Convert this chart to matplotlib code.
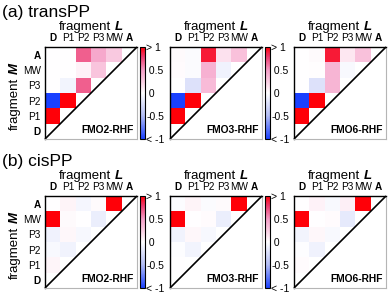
import numpy as np
import matplotlib
matplotlib.use('Agg')
import matplotlib.pyplot as plt
from matplotlib.colors import LinearSegmentedColormap, Normalize
import matplotlib.colorbar as mcolorbar

plt.rcParams['font.family'] = ['Liberation Sans', 'DejaVu Sans']

fragments = ['D', 'P1', 'P2', 'P3', 'MW', 'A']
bold_frags = {'D', 'A'}
methods = ['FMO2-RHF', 'FMO3-RHF', 'FMO6-RHF']
systems = ['(a) transPP', '(b) cisPP']
cbar_ticks = [1, 0.5, 0, -0.5, -1]
cbar_labels = ['> 1', ' 0.5', ' 0', '-0.5', '< -1']

# values for row M (D..A), columns L < M (D..)
trans_fmo2 = [
    [],
    [1.3],
    [-1.3, 1.3],
    [0.0, -0.08, 0.68],
    [0.0, 0.0, 0.07, 0.3],
    [0.0, 0.0, 0.68, 0.45, 0.28],
]
trans_fmo3 = [
    [],
    [1.2],
    [-1.2, 1.2],
    [0.0, -0.22, 0.35],
    [0.02, -0.03, 0.4, -0.1],
    [0.03, -0.03, 0.9, 0.15, 0.32],
]
trans_fmo6 = [
    [],
    [1.2],
    [-1.2, 1.2],
    [0.0, -0.22, 0.38],
    [0.0, 0.01, 0.38, -0.04],
    [0.0, 0.03, 0.9, 0.12, 0.32],
]
cis_fmo2 = [
    [],
    [0.05],
    [-0.04, -0.09],
    [-0.1, 0.04, -0.05],
    [1.2, 0.03, 0.0, -0.13],
    [0.0, 0.06, -0.07, 0.03, 1.2],
]
cis_fmo3 = [
    [],
    [0.0],
    [-0.01, -0.08],
    [-0.09, 0.04, -0.05],
    [1.2, 0.0, 0.02, -0.13],
    [-0.02, 0.06, -0.03, 0.03, 1.2],
]
cis_fmo6 = [
    [],
    [0.02],
    [-0.01, -0.1],
    [-0.08, 0.04, -0.04],
    [1.2, 0.0, 0.02, -0.16],
    [0.0, 0.07, -0.04, 0.08, 1.2],
]
data = [[trans_fmo2, trans_fmo3, trans_fmo6],
        [cis_fmo2, cis_fmo3, cis_fmo6]]

cmap = LinearSegmentedColormap.from_list('bwr_pink', [
    (0.0, (0.10, 0.25, 1.00)),
    (0.25, (0.70, 0.74, 0.96)),
    (0.5, (1.0, 1.0, 1.0)),
    (0.75, (0.96, 0.62, 0.78)),
    (0.9, (0.93, 0.22, 0.42)),
    (1.0, (1.0, 0.0, 0.03)),
])
norm = Normalize(-1, 1)

W, H = 390, 294
fig = plt.figure(figsize=(W / 100, H / 100), dpi=100)

def frac(x, y, w, h):
    return [x / W, 1 - (y + h) / H, w / W, h / H]

lefts = [45, 170, 294]
tops = [47, 196]
size = 92

n = len(fragments)
for r, top in enumerate(tops):
    fig.text(2 / W, 1 - (top - 30) / H, systems[r], fontsize=12.5,
             ha='left', va='baseline')
    for c, left in enumerate(lefts):
        rows = data[r][c]
        mat = np.full((n, n), np.nan)
        for m, vals in enumerate(rows):
            for l, v in enumerate(vals):
                mat[m, l] = v
        ax = fig.add_axes(frac(left, top, size, size))
        ax.pcolormesh(np.arange(n + 1), np.arange(n + 1),
                      np.ma.masked_invalid(mat), cmap=cmap, norm=norm)
        ax.plot([0, n], [0, n], color='k', lw=1.2, clip_on=False,
                solid_capstyle='butt')
        ax.set_xlim(0, n)
        ax.set_ylim(0, n)
        for s in ['left', 'top']:
            ax.spines[s].set_color('k')
            ax.spines[s].set_linewidth(1.0)
        for s in ['right', 'bottom']:
            ax.spines[s].set_color('#b5b5b5')
            ax.spines[s].set_linewidth(0.8)
        ax.set_xticks(np.arange(n) + 0.5)
        ax.set_yticks(np.arange(n) + 0.5)
        ax.xaxis.tick_top()
        ax.set_xticklabels(fragments, fontsize=7.2)
        if c == 0:
            ax.set_yticklabels(fragments, fontsize=7.2)
        else:
            ax.set_yticklabels([])
        for lab in ax.get_xticklabels() + ax.get_yticklabels():
            if lab.get_text() in bold_frags:
                lab.set_fontweight('bold')
        ax.tick_params(length=0, pad=3)
        ax.text(n - 0.2, 0.25, methods[c], fontsize=7.4, fontweight='bold',
                ha='right', va='bottom')
        # fragment L
        cx = left + size / 2
        yb = 1 - (top - 17) / H
        fig.text((cx + 20) / W, yb, 'fragment', fontsize=9.5,
                 ha='right', va='baseline')
        fig.text((cx + 24) / W, yb, 'L', fontsize=9.5, fontweight='bold',
                 style='italic', ha='left', va='baseline')
        if c == 0:
            cy = top + size / 2 + 4
            xb = 18 / W
            fig.text(xb, 1 - (cy + 33) / H, 'fragment', fontsize=9.5,
                     rotation=90, rotation_mode='anchor',
                     ha='left', va='baseline')
            fig.text(xb, 1 - (cy - 23) / H, 'M', fontsize=9.5,
                     fontweight='bold', style='italic', rotation=90,
                     rotation_mode='anchor', ha='left', va='baseline')
        if c < 2:
            cax = fig.add_axes(frac(left + size + 3, top, 5, size))
            cb = mcolorbar.ColorbarBase(cax, cmap=cmap, norm=norm,
                                        ticks=cbar_ticks)
            cb.set_ticklabels(cbar_labels)
            cb.outline.set_linewidth(0.8)
            cax.tick_params(length=0, pad=1, labelsize=7.5)

fig.savefig('out.png', dpi=100)
